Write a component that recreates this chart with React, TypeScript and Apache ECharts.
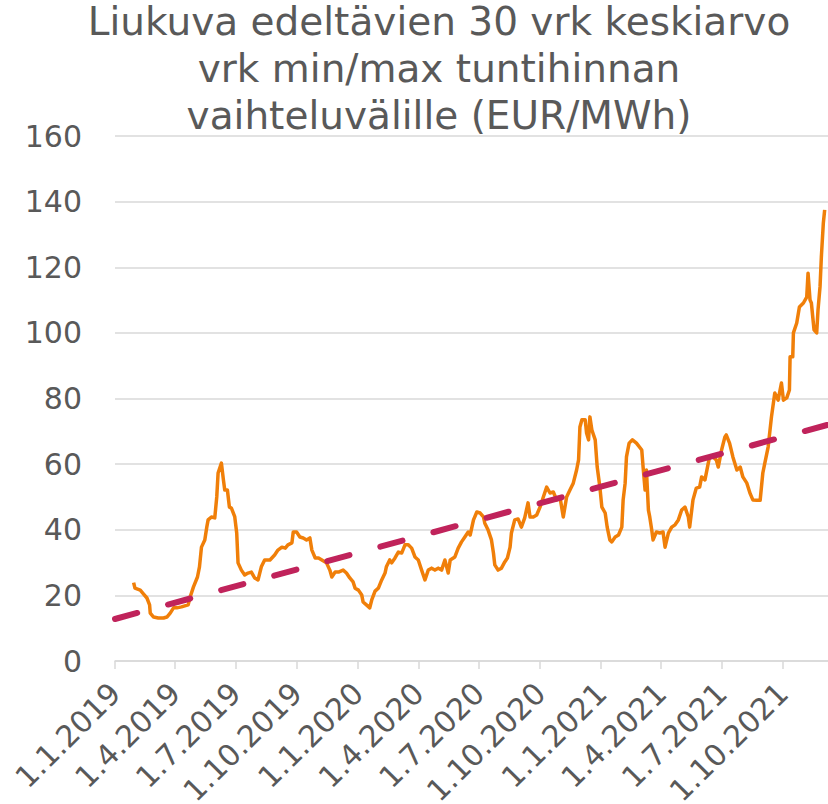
import React, { useEffect, useRef } from "react";
import * as echarts from "echarts";

const titleLines = [
  "Liukuva edeltävien 30 vrk keskiarvo",
  "vrk min/max tuntihinnan",
  "vaihteluvälille (EUR/MWh)",
];

const dates = [
  "2019-01-29", "2019-01-31", "2019-02-08", "2019-02-13", "2019-02-18", "2019-02-22", "2019-02-23", "2019-02-28",
  "2019-03-07", "2019-03-15", "2019-03-20", "2019-03-25", "2019-03-30", "2019-04-04", "2019-04-11", "2019-04-21",
  "2019-04-24", "2019-04-29", "2019-05-05", "2019-05-08", "2019-05-11", "2019-05-16", "2019-05-19", "2019-05-21",
  "2019-05-26", "2019-05-31", "2019-06-03", "2019-06-05", "2019-06-10", "2019-06-13", "2019-06-15", "2019-06-19",
  "2019-06-22", "2019-06-25", "2019-06-30", "2019-07-03", "2019-07-05", "2019-07-10", "2019-07-15", "2019-07-20",
  "2019-07-25", "2019-07-30", "2019-08-04", "2019-08-09", "2019-08-14", "2019-08-22", "2019-08-29", "2019-09-03",
  "2019-09-09", "2019-09-14", "2019-09-18", "2019-09-24", "2019-09-26", "2019-10-01", "2019-10-06", "2019-10-11",
  "2019-10-16", "2019-10-21", "2019-10-24", "2019-10-29", "2019-11-03", "2019-11-08", "2019-11-15", "2019-11-20",
  "2019-11-23", "2019-11-28", "2019-12-03", "2019-12-10", "2019-12-15", "2019-12-20", "2019-12-25", "2019-12-28",
  "2020-01-02", "2020-01-07", "2020-01-09", "2020-01-14", "2020-01-19", "2020-01-22", "2020-01-27", "2020-02-01",
  "2020-02-06", "2020-02-11", "2020-02-13", "2020-02-18", "2020-02-21", "2020-02-26", "2020-03-02", "2020-03-07",
  "2020-03-12", "2020-03-17", "2020-03-22", "2020-03-27", "2020-04-01", "2020-04-06", "2020-04-11", "2020-04-16",
  "2020-04-21", "2020-04-26", "2020-05-01", "2020-05-06", "2020-05-11", "2020-05-16", "2020-05-19", "2020-05-26",
  "2020-05-31", "2020-06-05", "2020-06-10", "2020-06-15", "2020-06-18", "2020-06-23", "2020-06-28", "2020-07-03",
  "2020-07-08", "2020-07-10", "2020-07-15", "2020-07-20", "2020-07-23", "2020-07-25", "2020-07-30", "2020-08-04",
  "2020-08-09", "2020-08-13", "2020-08-17", "2020-08-19", "2020-08-24", "2020-08-29", "2020-09-03", "2020-09-08",
  "2020-09-13", "2020-09-16", "2020-09-21", "2020-09-26", "2020-10-01", "2020-10-06", "2020-10-11", "2020-10-16",
  "2020-10-21", "2020-10-26", "2020-10-31", "2020-11-05", "2020-11-10", "2020-11-15", "2020-11-20", "2020-11-25",
  "2020-11-28", "2020-11-30", "2020-12-03", "2020-12-08", "2020-12-10", "2020-12-13", "2020-12-15", "2020-12-18",
  "2020-12-23", "2020-12-26", "2020-12-30", "2021-01-02", "2021-01-07", "2021-01-10", "2021-01-14", "2021-01-17",
  "2021-01-22", "2021-01-27", "2021-02-01", "2021-02-03", "2021-02-06", "2021-02-08", "2021-02-12", "2021-02-17",
  "2021-02-23", "2021-03-03", "2021-03-05", "2021-03-08", "2021-03-10", "2021-03-13", "2021-03-15", "2021-03-18",
  "2021-03-20", "2021-03-25", "2021-03-30", "2021-04-04", "2021-04-07", "2021-04-12", "2021-04-17", "2021-04-22",
  "2021-04-27", "2021-05-02", "2021-05-07", "2021-05-12", "2021-05-14", "2021-05-19", "2021-05-24", "2021-05-29",
  "2021-06-01", "2021-06-06", "2021-06-11", "2021-06-13", "2021-06-18", "2021-06-23", "2021-06-26", "2021-07-01",
  "2021-07-06", "2021-07-08", "2021-07-13", "2021-07-18", "2021-07-24", "2021-07-29", "2021-08-02", "2021-08-08",
  "2021-08-13", "2021-08-17", "2021-08-23", "2021-08-28", "2021-09-01", "2021-09-04", "2021-09-09", "2021-09-14",
  "2021-09-19", "2021-09-24", "2021-09-29", "2021-10-02", "2021-10-07", "2021-10-11", "2021-10-12", "2021-10-16",
  "2021-10-17", "2021-10-22", "2021-10-26", "2021-11-01", "2021-11-06", "2021-11-08", "2021-11-11", "2021-11-13",
  "2021-11-17", "2021-11-21", "2021-11-23", "2021-11-26", "2021-11-28", "2021-12-01", "2021-12-03",
];

const values = [
  23.9, 22.2, 21.6, 20.4, 19.2, 17.1, 14.6, 13.4,
  13.1, 13.1, 13.4, 14.6, 16.2, 16.2, 16.5, 17.1,
  19.5, 22.6, 25.6, 28.7, 34.7, 36.9, 40.8, 43.0,
  43.9, 43.6, 50.0, 57.3, 60.3, 55.2, 52.1, 52.1,
  46.9, 46.6, 44.0, 39.0, 29.9, 27.7, 26.2, 26.8,
  27.1, 25.3, 24.7, 28.7, 30.8, 30.8, 32.3, 33.8,
  34.7, 34.4, 35.4, 36.0, 39.3, 39.3, 37.8, 37.5,
  36.9, 37.5, 33.8, 31.4, 31.4, 30.8, 29.9, 27.7,
  25.6, 27.1, 27.1, 27.7, 26.8, 25.3, 24.1, 22.2,
  21.6, 20.1, 18.0, 17.1, 16.2, 18.6, 21.3, 22.2,
  24.7, 26.8, 28.7, 30.8, 29.9, 31.4, 33.2, 32.9,
  35.4, 35.4, 34.4, 31.7, 30.8, 27.7, 24.7, 27.7,
  28.3, 27.7, 28.3, 27.7, 30.8, 26.8, 30.8, 31.7,
  34.4, 36.3, 37.8, 39.3, 38.4, 43.0, 45.4, 45.1,
  43.9, 42.0, 39.9, 36.9, 32.9, 29.3, 27.7, 28.3,
  30.2, 31.4, 34.7, 39.0, 43.0, 43.3, 40.8, 43.6,
  48.2, 43.9, 43.9, 44.5, 46.9, 50.0, 53.0, 51.2,
  51.5, 49.1, 50.0, 43.9, 50.0, 52.1, 54.2, 58.2,
  61.3, 71.3, 73.5, 73.5, 69.5, 67.4, 74.4, 70.4,
  67.4, 59.1, 53.0, 46.9, 45.1, 40.8, 36.9, 36.3,
  37.8, 38.4, 40.8, 49.1, 54.2, 62.2, 66.4, 67.4,
  66.4, 64.3, 59.1, 52.1, 58.2, 46.0, 43.9, 39.9,
  36.9, 39.3, 39.0, 39.3, 34.7, 39.0, 40.8, 41.5,
  43.0, 46.0, 46.9, 43.9, 40.8, 49.1, 52.7, 53.0,
  56.1, 55.2, 60.3, 62.2, 62.2, 61.3, 59.1, 64.3,
  68.3, 68.9, 66.4, 62.2, 58.2, 59.1, 56.1, 54.2,
  51.0, 49.1, 49.0, 49.0, 57.3, 60.3, 65.2, 74.4,
  81.7, 79.5, 84.7, 79.5, 80.2, 82.6, 92.7, 92.7,
  100.0, 103.0, 107.9, 109.1, 110.9, 118.2, 110.0, 109.1,
  100.9, 100.0, 107.0, 114.0, 123.1, 133.5, 137.5,
];

const trendDates = ["2019-01-01", "2021-12-08"];
const trendValues = [12.8, 72.0];

const tickDates = [
  "2019-01-01", "2019-04-01", "2019-07-01", "2019-10-01",
  "2020-01-01", "2020-04-01", "2020-07-01", "2020-10-01",
  "2021-01-01", "2021-04-01", "2021-07-01", "2021-10-01",
];

const axisStart = "2019-01-01";
const axisEnd = "2021-12-08";
const yMin = 0;
const yMax = 160;
const yStep = 20;

const toTs = (s: string) => {
  const [y, m, d] = s.split("-").map(Number);
  return new Date(y, m - 1, d).getTime();
};

const FONT = "'DejaVu Sans', Verdana, sans-serif";
const GREY = "#595959";

export default function App() {
  const ref = useRef<HTMLDivElement>(null);

  useEffect(() => {
    if (!ref.current) return;
    const chart = echarts.init(ref.current, undefined, { renderer: "svg" });
    const tickTs = tickDates.map(toTs);
    chart.setOption({
      animation: false,
      title: {
        text: titleLines.join("\n"),
        left: 434,
        top: -7,
        textAlign: "center",
        textStyle: {
          fontFamily: FONT,
          fontSize: 39,
          fontWeight: "normal",
          color: GREY,
          lineHeight: 47,
        },
      },
      grid: {
        left: 115,
        right: 0,
        top: 136,
        bottom: 143,
        containLabel: false,
        outerBoundsMode: "none",
      },
      xAxis: {
        type: "value",
        min: toTs(axisStart),
        max: toTs(axisEnd),
        axisLine: { show: true, lineStyle: { color: "#D9D9D9", width: 1.5 } },
        axisTick: {
          show: true,
          customValues: tickTs,
          length: 8,
          lineStyle: { color: "#D9D9D9", width: 1.5 },
        },
        axisLabel: {
          customValues: tickTs,
          rotate: 45,
          margin: 27,
          padding: [18, 0, 0, 0],
          fontFamily: FONT,
          fontSize: 30,
          color: GREY,
          hideOverlap: false,
          formatter: (v: number) => {
            const d = new Date(v);
            return `${d.getDate()}.${d.getMonth() + 1}.${d.getFullYear()}`;
          },
        },
        splitLine: { show: false },
      },
      yAxis: {
        type: "value",
        min: yMin,
        max: yMax,
        interval: yStep,
        axisLine: { show: false },
        axisTick: { show: false },
        axisLabel: {
          fontFamily: FONT,
          fontSize: 30,
          color: GREY,
          margin: 33,
        },
        splitLine: { lineStyle: { color: "#D9D9D9", width: 1.5 } },
      },
      series: [
        {
          type: "line",
          data: dates.map((d, i) => [toTs(d), values[i]]),
          showSymbol: false,
          symbol: "none",
          lineStyle: { color: "#F07F09", width: 3.5, join: "round" },
          z: 2,
        },
        {
          type: "line",
          data: trendDates.map((d, i) => [toTs(d), trendValues[i]]),
          showSymbol: false,
          symbol: "none",
          lineStyle: { color: "#C0235B", width: 6, type: [23, 32], cap: "round" },
          z: 3,
        },
      ],
    });
    return () => chart.dispose();
  }, []);

  return (
    <div
      ref={ref}
      style={{ position: "absolute", left: 0, top: 0, width: 828, height: 804 }}
    />
  );
}
